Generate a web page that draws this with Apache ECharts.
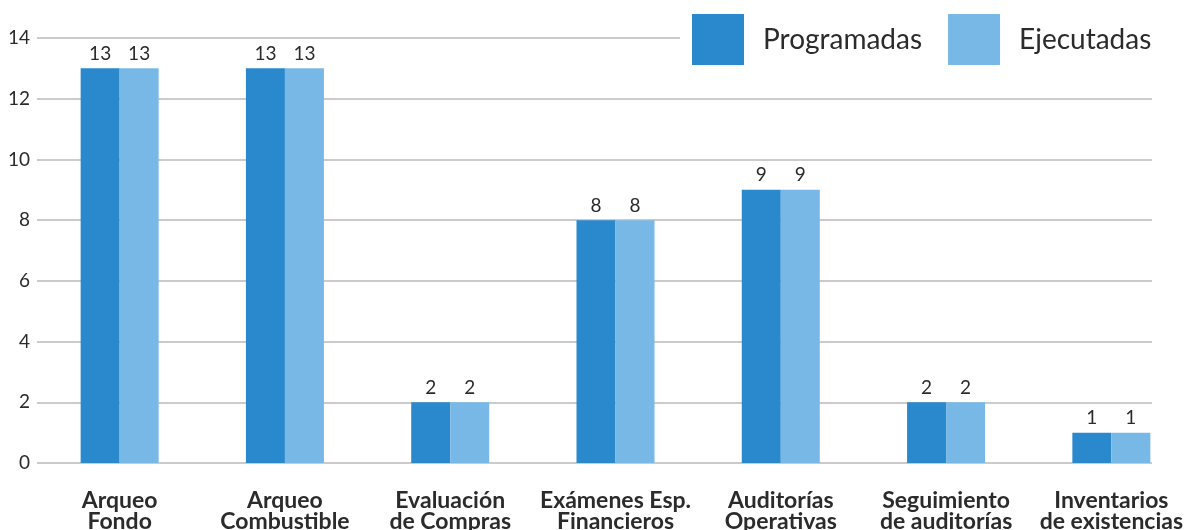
<!DOCTYPE html>
<html>
<head>
<meta charset="utf-8">
<script src="https://cdn.jsdelivr.net/npm/echarts@6/dist/echarts.min.js"></script>
<style>
html,body{margin:0;padding:0;background:#fff;}
#chart{width:1202px;height:530px;}
</style>
</head>
<body>
<div id="chart"></div>
<script>
const categories = ['Arqueo\nFondo', 'Arqueo\nCombustible', 'Evaluación\nde Compras', 'Exámenes Esp.\nFinancieros', 'Auditorías\nOperativas', 'Seguimiento\nde auditorías', 'Inventarios\nde existencias'];
const programadas = [13, 13, 2, 8, 9, 2, 1];
const ejecutadas = [13, 13, 2, 8, 9, 2, 1];
const yTicks = { min: 0, max: 14, interval: 2 };

const chart = echarts.init(document.getElementById('chart'), null, { renderer: 'canvas' });
const labelStyle = { show: true, position: 'top', distance: 5, fontFamily: 'Lato', fontSize: 19, color: '#2b2b2b' };
chart.setOption({
  animation: false,
  backgroundColor: '#ffffff',
  grid: [
    { left: 37, right: 8, top: 38, bottom: 67, outerBoundsMode: 'none', containLabel: false },
    { left: 37, right: 50, top: 38, bottom: 67, outerBoundsMode: 'none', containLabel: false, z: 0 }
  ],
  legend: {
    data: ['Programadas', 'Ejecutadas'],
    left: 680, top: 2,
    padding: [12, 14, 12, 12],
    backgroundColor: '#ffffff',
    itemWidth: 52, itemHeight: 51, itemGap: 26,
    icon: 'rect',
    z: 10,
    textStyle: { fontFamily: 'Lato', fontSize: 28, color: '#2b2b2b', padding: [0, 0, 0, 14] }
  },
  xAxis: [
    {
      type: 'category', gridIndex: 0, data: categories,
      axisLine: { show: false }, axisTick: { show: false },
      axisLabel: { interval: 0, margin: 27, fontFamily: 'Lato', fontWeight: 'bold', fontSize: 23, lineHeight: 21, color: '#2b2b2b' }
    },
    { type: 'category', gridIndex: 1, data: categories, show: false }
  ],
  yAxis: [
    {
      type: 'value', gridIndex: 0, min: yTicks.min, max: yTicks.max, interval: yTicks.interval,
      splitLine: { show: false }, axisLine: { show: false }, axisTick: { show: false },
      axisLabel: { margin: 7, fontFamily: 'Lato', fontSize: 19, color: '#2b2b2b' }
    },
    {
      type: 'value', gridIndex: 1, min: yTicks.min, max: yTicks.max, interval: yTicks.interval,
      axisLine: { show: false }, axisTick: { show: false }, axisLabel: { show: false },
      splitLine: { show: true, lineStyle: { color: '#cbcbcf', width: 2 } }
    }
  ],
  series: [
    { name: 'Programadas', type: 'bar', xAxisIndex: 0, yAxisIndex: 0, data: programadas, barWidth: 39, barGap: '0%', itemStyle: { color: '#2989cc' }, label: labelStyle, z: 5 },
    { name: 'Ejecutadas', type: 'bar', xAxisIndex: 0, yAxisIndex: 0, data: ejecutadas, barWidth: 39, barGap: '0%', itemStyle: { color: '#78b8e6' }, label: labelStyle, z: 5 }
  ]
});
</script>
</body>
</html>
